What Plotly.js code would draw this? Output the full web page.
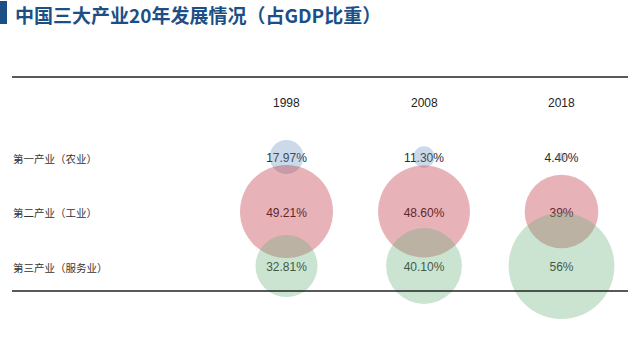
<!DOCTYPE html>
<html>
<head>
<meta charset="utf-8">
<script src="https://cdn.plot.ly/plotly-3.0.1.min.js"></script>
<style>html,body{margin:0;padding:0;background:#fff;}#chart{width:640px;height:357px;}</style>
</head>
<body>
<div id="chart"></div>
<script>
var years = [1998, 2008, 2018];
var yearLabels = ['1998', '2008', '2018'];
var sectors = ['第一产业（农业）', '第二产业（工业）', '第三产业（服务业）'];
var primary = [17.97, 11.30, 4.40];
var secondary = [49.21, 48.60, 39];
var tertiary = [32.81, 40.10, 56];
var primaryLabels = ['17.97%', '11.30%', '4.40%'];
var secondaryLabels = ['49.21%', '48.60%', '39%'];
var tertiaryLabels = ['32.81%', '40.10%', '56%'];
var titleText = '中国三大产业20年发展情况（占GDP比重）';

var series = [primary, secondary, tertiary];
var seriesLabels = [primaryLabels, secondaryLabels, tertiaryLabels];
var colors = ['rgba(105,145,190,0.5)', 'rgba(190,36,52,0.5)', 'rgba(105,177,125,0.5)'];

var traces = [];
var tx = [], ty = [], tt = [];
for (var r = 0; r < 3; r++) {
  for (var c = 0; c < years.length; c++) {
    tx.push(years[c]); ty.push(r + 0.04); tt.push(seriesLabels[r][c]);
  }
}
traces.push({
  type: 'scatter', mode: 'text', x: tx, y: ty, text: tt,
  textposition: 'middle center',
  textfont: {family: 'Liberation Sans, Arial, sans-serif', size: 12, color: '#2a2a2a'},
  hoverinfo: 'skip', showlegend: false
});
for (var r = 0; r < 3; r++) {
  traces.push({
    type: 'scatter', mode: 'markers',
    x: years, y: years.map(function(){ return r; }),
    marker: {size: series[r], sizemode: 'diameter', sizeref: 1/1.89,
             color: colors[r], line: {width: 0}},
    hoverinfo: 'skip', showlegend: false
  });
}

var annotations = [];
annotations.push({
  text: titleText, xref: 'paper', yref: 'paper', x: 13/640, y: 1 - 15/357,
  xanchor: 'left', yanchor: 'middle', showarrow: false,
  font: {family: 'Noto Sans CJK SC, sans-serif', size: 19, color: '#1c4f86', weight: 'bold'}
});
for (var c = 0; c < years.length; c++) {
  annotations.push({
    text: yearLabels[c], xref: 'x', yref: 'paper', x: years[c], y: 1 - 103/357,
    xanchor: 'center', yanchor: 'middle', showarrow: false,
    font: {family: 'Liberation Sans, Arial, sans-serif', size: 12, color: '#222'}
  });
}
for (var r = 0; r < sectors.length; r++) {
  annotations.push({
    text: sectors[r], xref: 'paper', yref: 'y', x: 11/640, y: r + 0.02,
    xanchor: 'left', yanchor: 'middle', showarrow: false,
    font: {family: 'Noto Sans CJK SC, sans-serif', size: 10.5, color: '#333'}
  });
}

var layout = {
  width: 640, height: 357,
  margin: {l: 0, r: 0, t: 0, b: 0, pad: 0},
  paper_bgcolor: '#fff', plot_bgcolor: '#fff',
  showlegend: false, hovermode: false,
  xaxis: {range: [1977.164, 2023.709], visible: false, fixedrange: true},
  yaxis: {range: [3.670, -2.881], visible: false, fixedrange: true},
  annotations: annotations,
  shapes: [
    {type: 'rect', xref: 'paper', yref: 'paper', x0: 0, x1: 7/640, y0: 1 - 24/357, y1: 1 - 1/357,
     fillcolor: '#1c4f86', line: {width: 0}},
    {type: 'line', xref: 'paper', yref: 'paper', x0: 12/640, x1: 628/640, y0: 1 - 77/357, y1: 1 - 77/357,
     line: {color: '#222', width: 1.5}},
    {type: 'line', xref: 'paper', yref: 'paper', x0: 12/640, x1: 628/640, y0: 1 - 291/357, y1: 1 - 291/357,
     line: {color: '#222', width: 1.5}}
  ]
};

Plotly.newPlot('chart', traces, layout, {staticPlot: true, displayModeBar: false});
</script>
</body>
</html>
